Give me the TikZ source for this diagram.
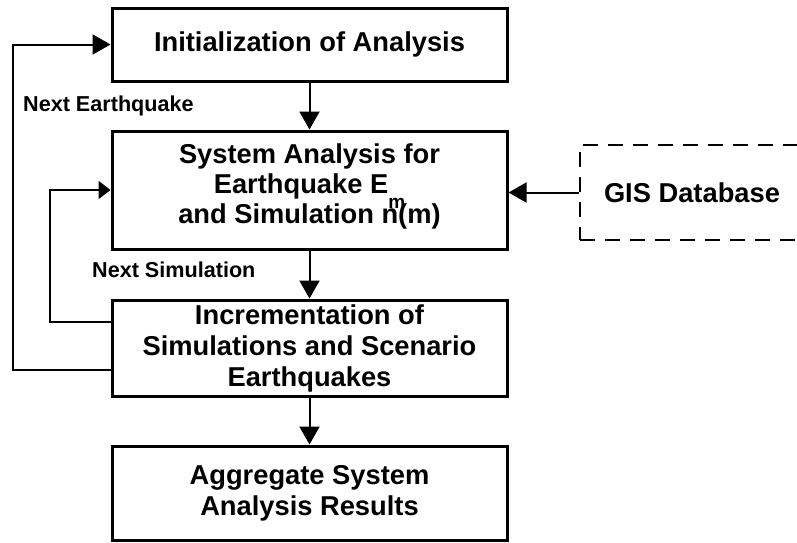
\documentclass[tikz,border=0pt]{standalone}
\usepackage{fontspec}
\setmainfont{Liberation Sans}
\usetikzlibrary{arrows.meta}
\begin{document}
\begin{tikzpicture}[x=1pt,y=-1pt,
  boxtxt/.style={font=\bfseries\fontsize{27.3pt}{31pt}\selectfont},
  box/.style={draw, line width=3pt, minimum width=395pt, align=center,
              inner sep=0pt, boxtxt},
  flow/.style={line width=2pt, -{Triangle[length=18pt,width=20pt]}},
  lbl/.style={font=\bfseries\fontsize{21.6pt}{25pt}\selectfont, inner sep=0pt}]
\clip (0,0) rectangle (797,542);
\fill[white] (0,0) rectangle (797,542);

% process boxes
\node[box, minimum height=73pt] (init) at (309.5,44.5) {Initialization of Analysis};
\node[box, minimum height=118pt, font=\bfseries\fontsize{27.3pt}{30pt}\selectfont] (sys) at (309.5,190)
  {System Analysis for\\
   Earthquake E\raisebox{-15pt}[0pt][0pt]{\fontsize{19pt}{19pt}\selectfont m}\\
   and Simulation n(m)\rule[-12pt]{0pt}{0pt}};
\node[box, minimum height=96pt] (incr) at (309.5,348)
  {Incrementation of\\Simulations and Scenario\\Earthquakes};
\node[box, minimum height=94pt] (aggr) at (309.5,493)
  {Aggregate System\\Analysis Results};

% external data source
\node[draw, dashed, line width=2.5pt, dash pattern=on 15pt off 10pt,
      minimum width=224pt, minimum height=95pt, boxtxt] (gis) at (692,192.5) {GIS Database};

% loop columns
\coordinate (outerx) at (13,0);
\coordinate (innerx) at (50,0);

% main flow
\draw[flow] (init) -- (sys);
\draw[flow] (sys) -- (incr);
\draw[flow] (incr) -- (aggr);
\draw[flow] (gis.west) -- (gis.west -| sys.east);

% feedback loops
\draw[flow] ([yshift=-22pt]incr.west) -| (outerx |- init.west) -- (init.west);
\draw[line width=2pt, -{Triangle[length=12pt,width=18pt]}]
  ([yshift=26pt]incr.west) -| (innerx |- sys.west) -- (sys.west);

% loop labels
\node[lbl, anchor=base west] (nextEq) at (23,111) {Next Earthquake};
\node[lbl, anchor=base west] (nextSim) at (92,277) {Next Simulation};
\end{tikzpicture}
\end{document}
